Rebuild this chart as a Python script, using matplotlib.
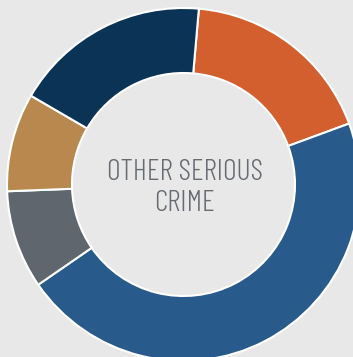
import matplotlib
matplotlib.use("Agg")
from matplotlib import pyplot as plt

# share of each segment, clockwise from just right of 12 o'clock
shares = [18, 46, 9, 9, 18]
colors = ["#D35F2E", "#285B8C", "#5F666D", "#B8884F", "#0B3356"]
center_label = "OTHER SERIOUS\nCRIME"

bg = "#E8E8E8"

fig = plt.figure(figsize=(3.53, 3.57), dpi=100, facecolor=bg)
ax = fig.add_axes([0, 0, 1, 1])
ax.set_facecolor(bg)

# work in pixel units so the ring can run off the right/bottom edges
outer = 176.5
ring = 65
cx, cy = 183.5, 357 - 184.5

ax.pie(
    shares,
    colors=colors,
    radius=outer,
    center=(cx, cy),
    startangle=85,
    counterclock=False,
    wedgeprops=dict(width=ring, edgecolor="white", linewidth=1.5),
)

ax.text(
    cx + 1.5, 357 - 188, center_label,
    ha="center", va="center",
    fontsize=21.5, color="#666B71",
    family=["Barlow Condensed", "Archivo Narrow", "DejaVu Sans"],
    weight=300,
    linespacing=1.22,
)

ax.set_xlim(0, 353)
ax.set_ylim(0, 357)
ax.set_aspect("equal")
ax.axis("off")

fig.savefig("out.png", dpi=100, facecolor=bg)
